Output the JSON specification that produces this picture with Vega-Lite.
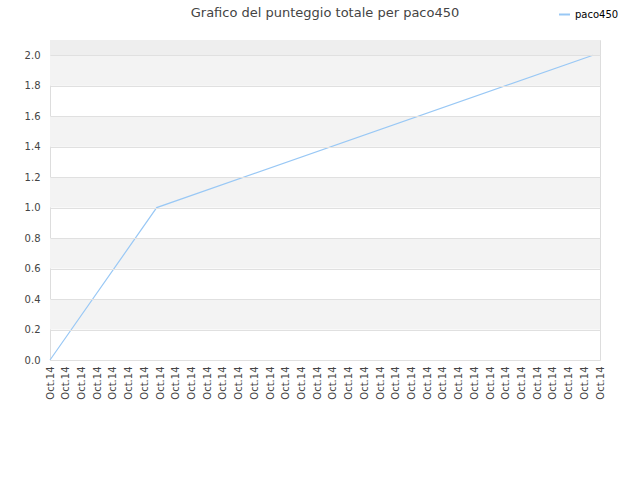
{
  "$schema": "https://vega.github.io/schema/vega-lite/v6.json",
  "width": 550,
  "height": 320,
  "autosize": {"type": "none"},
  "padding": {"left": 50, "top": 40, "right": 40, "bottom": 120},
  "background": "white",
  "config": {
    "font": "DejaVu Sans",
    "view": {"stroke": "#dddddd", "strokeWidth": 1},
    "axisY": {"labelOverlap": false}
  },
  "title": {
    "text": "Grafico del punteggio totale per paco450",
    "fontSize": 13,
    "fontWeight": "normal",
    "color": "#444444",
    "anchor": "middle",
    "frame": "group",
    "offset": 0,
    "dy": 12
  },
  "datasets": {
    "fasce": [
      {"da": 0.2, "a": 0.4},
      {"da": 0.6, "a": 0.8},
      {"da": 1.0, "a": 1.2},
      {"da": 1.4, "a": 1.6},
      {"da": 1.8, "a": 2.0},
      {"da": 2.0, "a": 2.1}
    ],
    "punteggi": [
      {"tempo": 0, "punteggio": 0, "giocatore": "paco450"},
      {"tempo": 6.79, "punteggio": 1, "giocatore": "paco450"},
      {"tempo": 34.55, "punteggio": 2, "giocatore": "paco450"}
    ]
  },
  "layer": [
    {
      "data": {"name": "fasce"},
      "mark": {"type": "rect"},
      "encoding": {
        "y": {
          "field": "da",
          "type": "quantitative",
          "scale": {"domain": [0, 2.1], "nice": false},
          "axis": {
            "title": null,
            "values": [0, 0.2, 0.4, 0.6, 0.8, 1.0, 1.2, 1.4, 1.6, 1.8, 2.0],
            "format": ".1f",
            "labelFontSize": 10,
            "labelColor": "#444444",
            "labelPadding": 10,
            "labelOverlap": false,
            "ticks": false,
            "domain": false,
            "grid": true,
            "gridColor": "#e0e0e0",
            "zindex": 1
          }
        },
        "y2": {"field": "a"},
        "fill": {"condition": {"test": "datum.da >= 2", "value": "#eeeeee"}, "value": "#f3f3f3"}
      }
    },
    {
      "data": {"name": "punteggi"},
      "mark": {"type": "line", "strokeWidth": 1.2},
      "encoding": {
        "x": {
          "field": "tempo",
          "type": "quantitative",
          "scale": {"domain": [0, 35], "nice": false, "zero": false},
          "axis": {
            "title": null,
            "values": [0,1,2,3,4,5,6,7,8,9,10,11,12,13,14,15,16,17,18,19,20,21,22,23,24,25,26,27,28,29,30,31,32,33,34,35],
            "labelExpr": "'Oct.14'",
            "labelAngle": 270,
            "labelAlign": "right",
            "labelBaseline": "middle",
            "labelFontSize": 10,
            "labelColor": "#444444",
            "labelPadding": 6,
            "labelOverlap": false,
            "labelFlush": false,
            "ticks": false,
            "domain": false,
            "grid": false
          }
        },
        "y": {
          "field": "punteggio",
          "type": "quantitative",
          "axis": {
            "title": null,
            "values": [0, 0.2, 0.4, 0.6, 0.8, 1.0, 1.2, 1.4, 1.6, 1.8, 2.0],
            "format": ".1f",
            "labelFontSize": 10,
            "labelColor": "#444444",
            "labelPadding": 10,
            "labelOverlap": false,
            "ticks": false,
            "domain": false,
            "grid": true,
            "gridColor": "#e0e0e0",
            "zindex": 1
          }
        },
        "color": {
          "field": "giocatore",
          "type": "nominal",
          "scale": {"range": ["#99c8f5"]},
          "legend": {
            "title": null,
            "orient": "none",
            "legendX": 508,
            "legendY": -32,
            "symbolType": "stroke",
            "symbolStrokeWidth": 2,
            "symbolSize": 120,
            "labelFontSize": 10,
            "labelColor": "#000000"
          }
        }
      }
    }
  ]
}
